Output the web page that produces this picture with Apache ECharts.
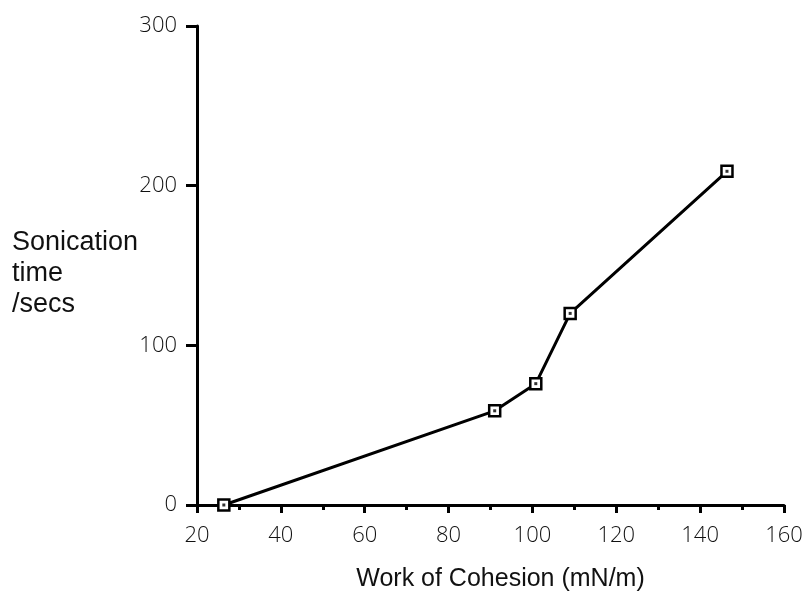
<!DOCTYPE html>
<html>
<head>
<meta charset="utf-8">
<script src="https://cdn.jsdelivr.net/npm/echarts@6/dist/echarts.min.js"></script>
<style>
  html, body { margin: 0; padding: 0; background: #fff; }
  #chart { width: 812px; height: 597px; }
</style>
</head>
<body>
<div id="chart"></div>
<script>
// Work of cohesion (mN/m) against sonication time (s)
const cohesion = [26.4, 91, 100.8, 109, 146.4];
const sonicationTime = [0, 59, 76, 120, 209];
const xTicks = [20, 40, 60, 80, 100, 120, 140, 160];
const yTicks = [0, 100, 200, 300];
const yTitle = 'Sonication\ntime\n/secs';
const xTitle = 'Work of Cohesion (mN/m)';

const points = cohesion.map((x, i) => [x, sonicationTime[i]]);
const tickFont = { fontFamily: 'Open Sans', fontWeight: 300, fontSize: 22, color: '#111' };
const nameFont = { fontFamily: 'Liberation Sans', fontSize: 25, color: '#111' };

const chart = echarts.init(document.getElementById('chart'), null, { renderer: 'canvas' });
chart.setOption({
  animation: false,
  backgroundColor: '#fff',
  grid: { left: 197, top: 26, right: 28, bottom: 91, containLabel: false },
  graphic: [{
    // stacked, horizontal y-axis title to the left of the axis
    type: 'text',
    left: 12, top: 227,
    style: {
      text: yTitle,
      font: '27px "Liberation Sans"',
      lineHeight: 31,
      fill: '#111'
    }
  }],
  xAxis: {
    type: 'value',
    min: xTicks[0], max: xTicks[xTicks.length - 1], interval: 20,
    name: xTitle,
    nameLocation: 'middle', nameGap: 62,
    nameTextStyle: Object.assign({}, nameFont, { padding: [0, 0, 0, 20] }),
    axisLine: { lineStyle: { color: '#000', width: 3 } },
    axisTick: { inside: false, length: 8, lineStyle: { color: '#000', width: 3 } },
    minorTick: { show: true, splitNumber: 2, length: 5, lineStyle: { color: '#000', width: 3 } },
    axisLabel: Object.assign({ margin: 20 }, tickFont),
    splitLine: { show: false }
  },
  yAxis: {
    type: 'value',
    min: yTicks[0], max: yTicks[yTicks.length - 1], interval: 100,
    axisLine: { lineStyle: { color: '#000', width: 3 } },
    axisTick: { inside: false, length: 11, lineStyle: { color: '#000', width: 3 } },
    axisLabel: Object.assign({ margin: 20 }, tickFont),
    splitLine: { show: false }
  },
  series: [
    {
      type: 'line',
      data: points,
      lineStyle: { color: '#000', width: 3 },
      symbol: 'rect', symbolSize: 11,
      showSymbol: true,
      itemStyle: { color: '#fff', borderColor: '#000', borderWidth: 2.5 },
      z: 2
    },
    {
      // centre dot inside each square marker
      type: 'scatter',
      data: points,
      symbol: 'rect', symbolSize: 3,
      itemStyle: { color: '#000' },
      z: 3
    }
  ]
});
</script>
</body>
</html>
